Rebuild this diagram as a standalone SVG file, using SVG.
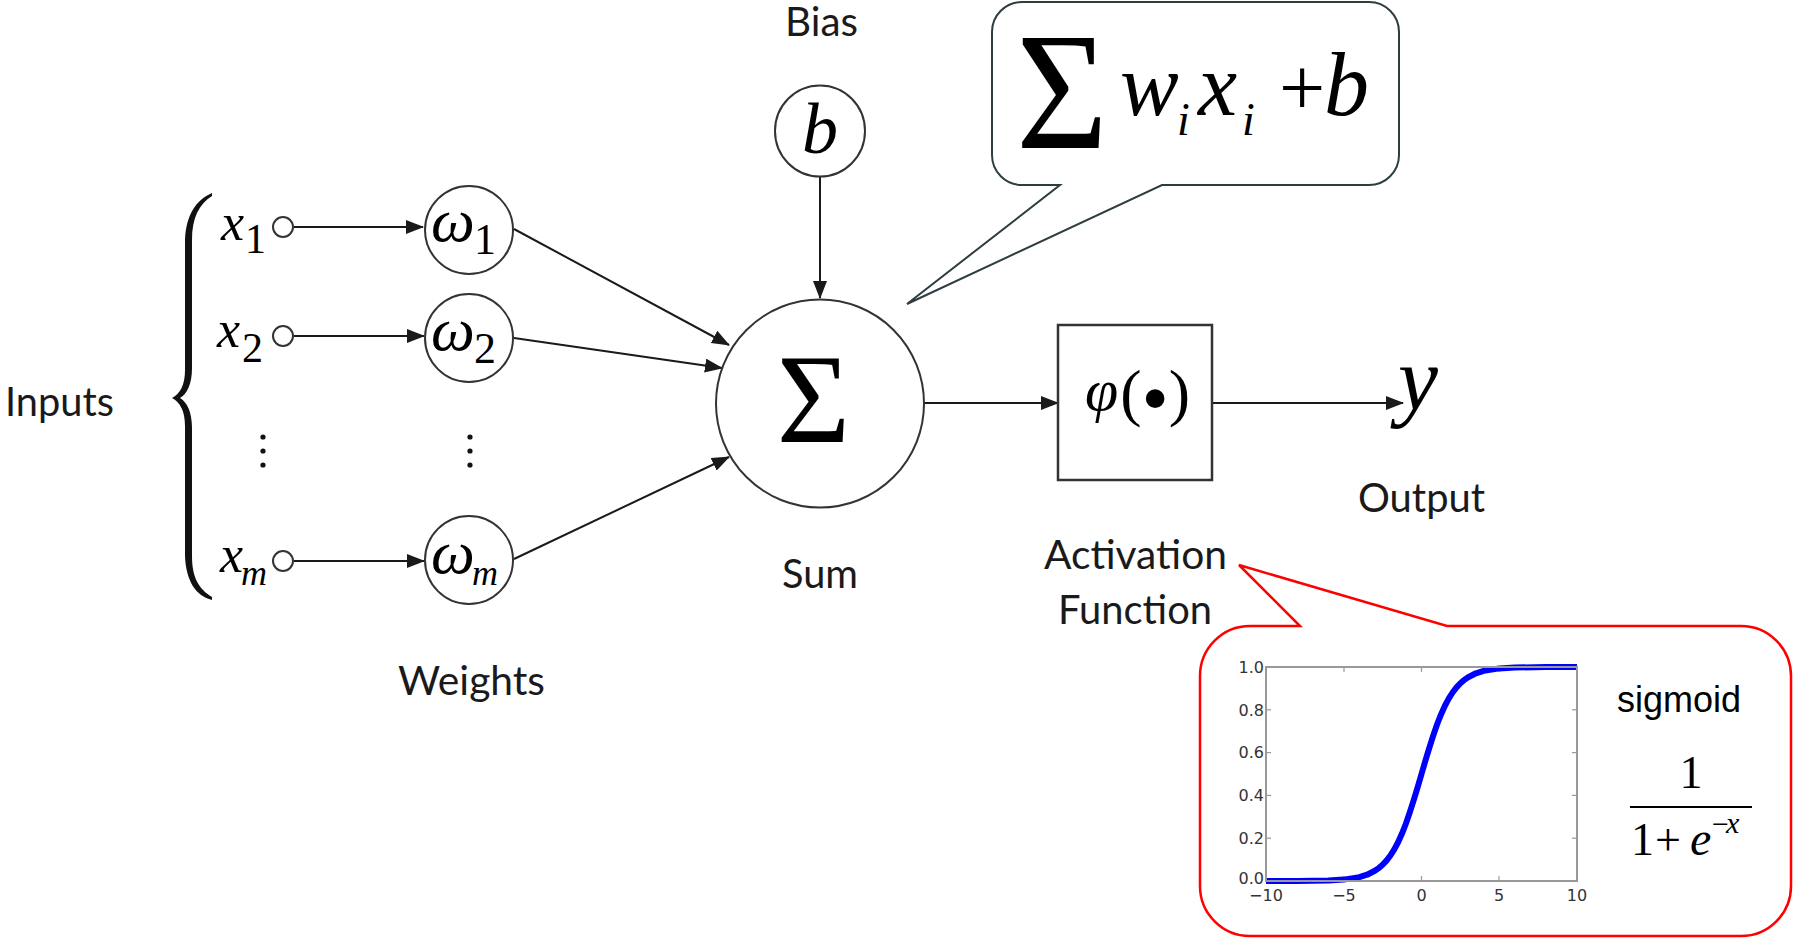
<svg xmlns="http://www.w3.org/2000/svg" width="1793" height="938" viewBox="0 0 1793 938">
<defs>
<style>
.lbl{font-family:Lato,"Open Sans","Liberation Sans",sans-serif;font-size:40px;fill:#1a1a1a}
.m{font-family:"Liberation Serif","Times New Roman",serif;fill:#000}
.i{font-style:italic}
.edge{stroke:#1a1a1a;stroke-width:2;fill:none}
.node{fill:#fff;stroke:#333;stroke-width:2}
.tick{font-family:"DejaVu Sans",sans-serif;font-size:16px;fill:#333}
.axis{fill:none;stroke:#999;stroke-width:2}
.tk{stroke:#999;stroke-width:1.2}
</style>
<marker id="ah" markerUnits="userSpaceOnUse" markerWidth="18" markerHeight="14" refX="17" refY="7" orient="auto"><path d="M0,0 L18,7 L0,14 Z" fill="#1a1a1a"/></marker>
</defs>
<rect width="1793" height="938" fill="#fff"/>

<!-- connectors -->
<g id="connectors" class="edge">
<line x1="294" y1="227" x2="423" y2="227" marker-end="url(#ah)"/>
<line x1="294" y1="336" x2="424" y2="336" marker-end="url(#ah)"/>
<line x1="294" y1="561" x2="424" y2="561" marker-end="url(#ah)"/>
<line x1="514" y1="229" x2="729" y2="345" marker-end="url(#ah)"/>
<line x1="514" y1="338" x2="722" y2="368" marker-end="url(#ah)"/>
<line x1="514" y1="559" x2="729" y2="457" marker-end="url(#ah)"/>
<line x1="820" y1="177" x2="820" y2="298" marker-end="url(#ah)"/>
<line x1="924" y1="403" x2="1058" y2="403" marker-end="url(#ah)"/>
<line x1="1212" y1="403" x2="1403" y2="403" marker-end="url(#ah)"/>
</g>

<!-- inputs -->
<g id="inputs">
<text class="lbl" x="5" y="416" textLength="109" lengthAdjust="spacingAndGlyphs">Inputs</text>
<path d="M212,193 C196,200 186,215 185,240 L185,370 C185,385 180,394 172,398 C180,402 185,411 185,426 L185,556 C186,581 196,596 212,600 L212,597 C199,589 192,578 192,556 L192,428 C192,412 187,402 180,398 C187,394 192,384 192,368 L192,240 C192,218 199,204 212,196 Z" fill="#111"/>
</g>
<g id="x1">
<text class="m i" x="221" y="240" font-size="52">x</text>
<text class="m" x="245" y="253" font-size="42">1</text>
<circle class="node" cx="283" cy="227" r="10"/>
</g>
<g id="x2">
<text class="m i" x="217" y="347" font-size="52">x</text>
<text class="m" x="242" y="362" font-size="42">2</text>
<circle class="node" cx="283" cy="336" r="10"/>
</g>
<g id="xdots" fill="#111">
<circle cx="263" cy="437" r="2.6"/><circle cx="263" cy="451" r="2.6"/><circle cx="263" cy="465" r="2.6"/>
</g>
<g id="xm">
<text class="m i" x="220" y="572" font-size="52">x</text>
<text class="m i" x="241" y="585" font-size="36">m</text>
<circle class="node" cx="283" cy="561" r="10"/>
</g>

<!-- weights -->
<g id="w1">
<circle class="node" cx="469" cy="230" r="44"/>
<text class="m i" x="431" y="241" font-size="62">ω</text>
<text class="m" x="474" y="254" font-size="44">1</text>
</g>
<g id="w2">
<circle class="node" cx="469" cy="338" r="44"/>
<text class="m i" x="431" y="350" font-size="62">ω</text>
<text class="m" x="474" y="363" font-size="44">2</text>
</g>
<g id="wdots" fill="#111">
<circle cx="470" cy="437" r="2.6"/><circle cx="470" cy="451" r="2.6"/><circle cx="470" cy="465" r="2.6"/>
</g>
<g id="wm">
<circle class="node" cx="469" cy="560" r="44"/>
<text class="m i" x="431" y="573" font-size="62">ω</text>
<text class="m i" x="472" y="585" font-size="36">m</text>
</g>
<text id="weights-label" class="lbl" x="398" y="695" textLength="147" lengthAdjust="spacingAndGlyphs">Weights</text>

<!-- bias -->
<g id="bias">
<text class="lbl" x="785" y="36" font-size="38" textLength="73" lengthAdjust="spacingAndGlyphs">Bias</text>
<ellipse class="node" cx="820" cy="131" rx="45" ry="45.5"/>
<text class="m i" x="820" y="153" font-size="72" text-anchor="middle">b</text>
</g>

<!-- sum -->
<g id="sum">
<circle class="node" cx="820" cy="403.5" r="104"/>
<text class="m" x="813.5" y="442" font-size="126" text-anchor="middle">Σ</text>
<text class="lbl" x="782" y="588" textLength="76" lengthAdjust="spacingAndGlyphs">Sum</text>
</g>

<!-- activation -->
<g id="activation">
<rect x="1058" y="325" width="154" height="155" fill="#fff" stroke="#333" stroke-width="2.5"/>
<text class="m" x="1085" y="410" font-size="60"><tspan class="i">φ</tspan><tspan dx="2" dy="4" font-size="64">(</tspan><tspan dy="11" font-size="78">•</tspan><tspan dy="-11" font-size="64">)</tspan></text>
<text class="lbl" x="1044" y="569" textLength="183" lengthAdjust="spacingAndGlyphs">Activation</text>
<text class="lbl" x="1058" y="624" textLength="154" lengthAdjust="spacingAndGlyphs">Function</text>
</g>

<!-- output -->
<g id="output">
<text class="m i" x="1398" y="410" font-size="90">y</text>
<text class="lbl" x="1358" y="512" textLength="127" lengthAdjust="spacingAndGlyphs">Output</text>
</g>

<!-- sum formula callout -->
<g id="sum-callout">
<path d="M1022,2 H1369 A30,30 0 0 1 1399,32 V155 A30,30 0 0 1 1369,185 H1162 L907,304 L1060,185 H1022 A30,30 0 0 1 992,155 V32 A30,30 0 0 1 1022,2 Z" fill="#fff" stroke="#2d3d40" stroke-width="2"/>
<text class="m" x="1016" y="148" font-size="168" textLength="92" lengthAdjust="spacingAndGlyphs">Σ</text>
<text class="m i" x="1120" y="115" font-size="88">w</text>
<text class="m i" x="1177" y="135" font-size="46">i</text>
<text class="m i" x="1198" y="115" font-size="88">x</text>
<text class="m i" x="1242" y="135" font-size="46">i</text>
<text class="m" x="1279" y="115" font-size="82">+</text>
<text class="m i" x="1324" y="115" font-size="90">b</text>
</g>

<!-- sigmoid callout -->
<g id="sigmoid-callout">
<path d="M1250,626 H1300 L1239,565 L1447,626 H1741 A50,50 0 0 1 1791,676 V886 A50,50 0 0 1 1741,936 H1250 A50,50 0 0 1 1200,886 V676 A50,50 0 0 1 1250,626 Z" fill="#fff" stroke="#ff0000" stroke-width="2.5"/>
<g id="chart">
<rect x="1266" y="667" width="311" height="214" fill="#fff"/>
<g class="tk">
<line x1="1344" y1="881" x2="1344" y2="876"/><line x1="1421.5" y1="881" x2="1421.5" y2="876"/><line x1="1499" y1="881" x2="1499" y2="876"/>
<line x1="1344" y1="667" x2="1344" y2="672"/><line x1="1421.5" y1="667" x2="1421.5" y2="672"/><line x1="1499" y1="667" x2="1499" y2="672"/>
<line x1="1266" y1="709.8" x2="1271" y2="709.8"/><line x1="1266" y1="752.6" x2="1271" y2="752.6"/><line x1="1266" y1="795.4" x2="1271" y2="795.4"/><line x1="1266" y1="838.2" x2="1271" y2="838.2"/>
<line x1="1577" y1="709.8" x2="1572" y2="709.8"/><line x1="1577" y1="752.6" x2="1572" y2="752.6"/><line x1="1577" y1="795.4" x2="1572" y2="795.4"/><line x1="1577" y1="838.2" x2="1572" y2="838.2"/>
</g>
<polyline fill="none" stroke="#0000ff" stroke-width="6" stroke-linejoin="round" points="1266,881 1297.1,880.9 1328.2,880.5 1343.75,879.6 1359.3,877.2 1367.1,874.7 1374.85,870.8 1378.7,868.1 1382.6,864.8 1386.5,860.6 1390.4,855.5 1394.3,849.3 1398.2,842 1402.1,833.3 1405.95,823.5 1409.8,812.3 1413.7,800.2 1417.6,787.3 1421.5,774 1425.4,760.7 1429.3,747.8 1433.2,735.7 1437.05,724.5 1440.9,714.7 1444.8,706 1448.7,698.7 1452.6,692.5 1456.5,687.4 1460.4,683.2 1464.3,679.9 1468.15,677.2 1475.9,673.3 1483.7,670.9 1499.25,668.4 1514.8,667.5 1545.9,667.1 1577,667"/>
<rect class="axis" x="1266" y="667" width="311" height="214"/>
<g class="tick" text-anchor="end">
<text x="1264" y="673">1.0</text><text x="1264" y="716">0.8</text><text x="1264" y="758">0.6</text><text x="1264" y="801">0.4</text><text x="1264" y="844">0.2</text><text x="1264" y="884">0.0</text>
</g>
<g class="tick" text-anchor="middle">
<text x="1266" y="901">−10</text><text x="1344" y="901">−5</text><text x="1421.5" y="901">0</text><text x="1499" y="901">5</text><text x="1577" y="901">10</text>
</g>
</g>
<text x="1617" y="712" font-family="'Liberation Sans',Arial,sans-serif" font-size="36" fill="#000">sigmoid</text>
<text class="m" x="1691" y="788" font-size="46" text-anchor="middle">1</text>
<line x1="1630" y1="807" x2="1752" y2="807" stroke="#000" stroke-width="2.2"/>
<text class="m" x="1631" y="855" font-size="46">1</text>
<text class="m" x="1655" y="855" font-size="46">+</text>
<text class="m i" x="1690" y="855" font-size="48">e</text>
<text class="m" x="1712" y="834" font-size="30">−</text>
<text class="m i" x="1726" y="833" font-size="30">x</text>
</g>
</svg>
